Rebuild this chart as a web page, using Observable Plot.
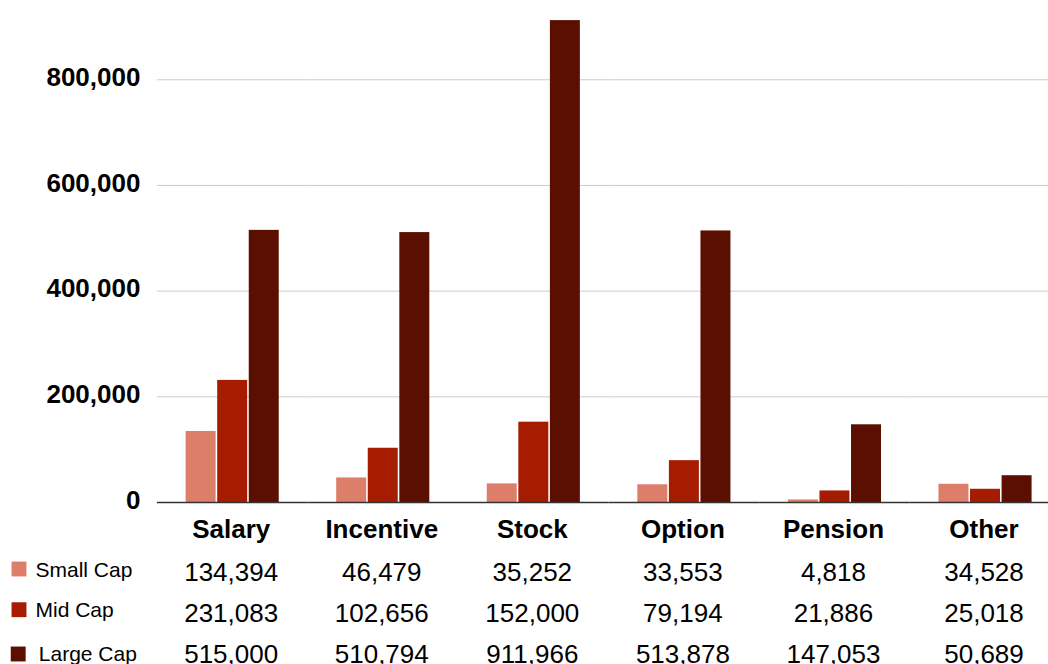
<!DOCTYPE html>
<html><head><meta charset="utf-8">
<script src="https://cdn.jsdelivr.net/npm/d3@7"></script>
<script src="https://cdn.jsdelivr.net/npm/@observablehq/plot@0.6"></script>
<style>
html,body{margin:0;padding:0;background:#fff;overflow:hidden;}
#chart svg{display:block;}
</style></head><body><div id="chart"></div>
<script>
const categories = ["Salary", "Incentive", "Stock", "Option", "Pension", "Other"];
const seriesNames = ["Small Cap", "Mid Cap", "Large Cap"];
const smallCap = [134394, 46479, 35252, 33553, 4818, 34528];
const midCap = [231083, 102656, 152000, 79194, 21886, 25018];
const largeCap = [515000, 510794, 911966, 513878, 147053, 50689];
const yTicks = [0, 200000, 400000, 600000, 800000];
const colors = ["#dd7e6b", "#a61c00", "#5b0f00"];

const seriesValues = [smallCap, midCap, largeCap];
const data = seriesNames.flatMap((s, i) => categories.map((c, j) => ({category: c, series: s, value: seriesValues[i][j]})));
const fmt = d3.format(",");
const font = "'Liberation Sans', Arial, Helvetica, sans-serif";

const rowDy = [78.3, 119, 160];
const swatchDy = [66.5, 107.2, 151.5];
const swatchDx = [-138.4, -138.4, -139.2];
const labelDy = [74.3, 114.8, 158.5];
const labelDx = [-121.9, -121.9, -118.6];

const rowMarks = seriesNames.map((s, i) =>
  Plot.text(data.filter(d => d.series === s), {
    fx: "category", text: d => fmt(d.value), frameAnchor: "bottom",
    dx: -1.5, dy: rowDy[i], fontSize: 26, fill: "#000"
  })
);
const legendMarks = seriesNames.flatMap((s, i) => [
  Plot.dot([s], {fx: () => categories[0], fill: d => d, symbol: "square", r: 8.4, frameAnchor: "bottom-left", dx: swatchDx[i], dy: swatchDy[i], stroke: "none"}),
  Plot.text([s], {fx: () => categories[0], text: d => d, frameAnchor: "bottom-left", textAnchor: "start", dx: labelDx[i], dy: labelDy[i], fontSize: 21, fill: "#000"})
]);

const chart = Plot.plot({
  width: 1048, height: 664,
  marginTop: 0, marginLeft: 157, marginRight: 0, marginBottom: 162,
  style: {fontFamily: font, background: "#fff", color: "#000"},
  fx: {domain: categories, range: [156.9, 1060.3], paddingInner: 0, paddingOuter: 0, round: false, axis: null, label: null},
  x: {domain: seriesNames, paddingInner: 0.05, paddingOuter: 0.91, round: false, axis: null},
  y: {domain: [0, 950000], axis: null},
  color: {domain: seriesNames, range: colors},
  marks: [
    Plot.gridY(yTicks.filter(t => t > 0), {stroke: "#cccccc", strokeOpacity: 1}),
    Plot.axisY(yTicks, {tickSize: 0, tickPadding: 17, tickFormat: fmt, fontSize: 26, fontWeight: "bold", fill: "#000", dy: -2, label: null}),
    Plot.barY(data, {fx: "category", x: "series", y: "value", fill: "series"}),
    Plot.ruleY([0], {stroke: "#333", strokeWidth: 1.3}),
    Plot.text(categories, {fx: d => d, text: d => d, frameAnchor: "bottom", dx: -1.5, dy: 35.7, fontSize: 26, fontWeight: "bold", fill: "#000"}),
    ...rowMarks,
    ...legendMarks
  ]
});
document.getElementById("chart").appendChild(chart);
</script>
</body></html>
